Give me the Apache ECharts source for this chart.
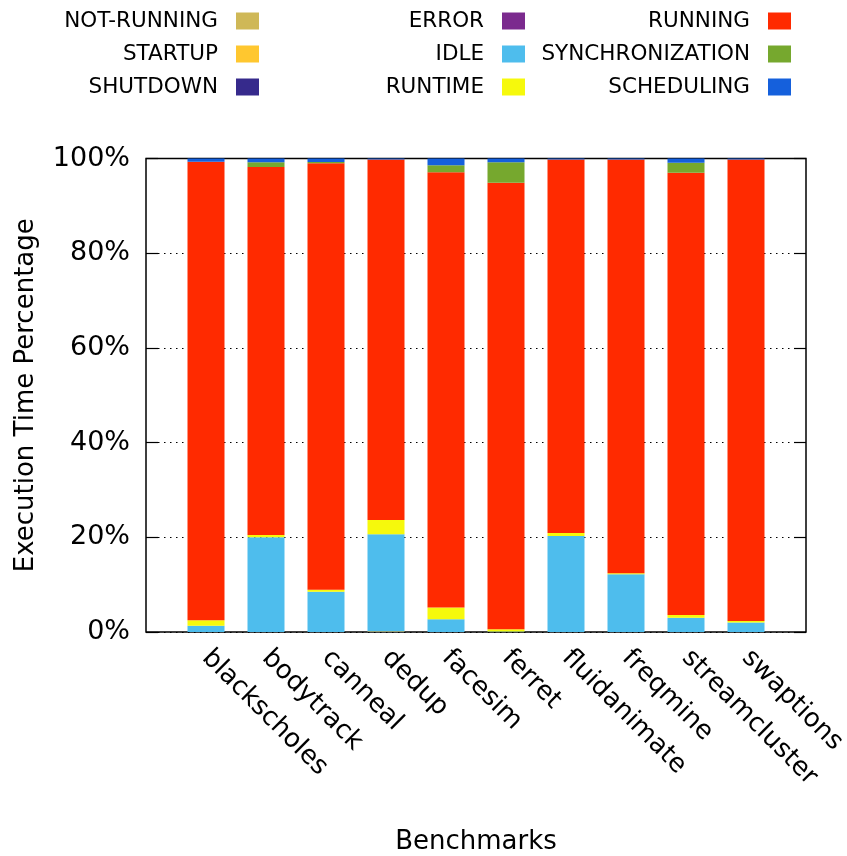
<!DOCTYPE html>
<html>
<head>
<meta charset="utf-8">
<script src="https://cdn.jsdelivr.net/npm/echarts@6/dist/echarts.min.js"></script>
<style>
  html, body { margin: 0; padding: 0; background: #fff; }
  #chart { width: 847px; height: 856px; }
</style>
</head>
<body>
<div id="chart"></div>
<script>
// Benchmarks on the x axis
const benchmarks = ['blackscholes', 'bodytrack', 'canneal', 'dedup', 'facesim',
  'ferret', 'fluidanimate', 'freqmine', 'streamcluster', 'swaptions'];

// Percentage of execution time spent in each state, per benchmark
const notRunning      = [0,   0,    0,    0.15, 0,    0,    0,    0,    0,    0];
const startup         = [0,   0,    0,    0,    0,    0,    0,    0,    0,    0];
const shutdown        = [0,   0,    0,    0,    0,    0,    0,    0,    0,    0];
const errorState      = [0,   0,    0,    0,    0,    0,    0,    0,    0,    0];
const idle            = [1.3, 20.0, 8.5,  20.5, 2.7,  0.1,  20.3, 12.2, 3.0,  2.0];
const runtime         = [1.2, 0.5,  0.4,  3.0,  2.5,  0.5,  0.6,  0.2,  0.6,  0.3];
const running         = [96.8, 77.7, 90.1, 76.15, 91.9, 94.3, 78.9, 87.4, 93.4, 97.5];
const synchronization = [0,   1.0,  0.25, 0,    1.5,  4.3,  0,    0,    2.1,  0];
const scheduling      = [0.7, 0.8,  0.75, 0.2,  1.4,  0.8,  0.2,  0.2,  0.9,  0.2];

// Y axis ticks (percent)
const yTicks = [0, 20, 40, 60, 80, 100];

const FONT = 'DejaVu Sans';

// Stack order, bottom to top
const states = [
  { name: 'NOT-RUNNING',     data: notRunning,      color: '#cfb857' },
  { name: 'STARTUP',         data: startup,         color: '#ffc72f' },
  { name: 'SHUTDOWN',        data: shutdown,        color: '#362a8c' },
  { name: 'ERROR',           data: errorState,      color: '#7b2a8e' },
  { name: 'IDLE',            data: idle,            color: '#4ebded' },
  { name: 'RUNTIME',         data: runtime,         color: '#f6f90c' },
  { name: 'RUNNING',         data: running,         color: '#ff2a00' },
  { name: 'SYNCHRONIZATION', data: synchronization, color: '#76a82e' },
  { name: 'SCHEDULING',      data: scheduling,      color: '#1560dc' }
];

// The x range runs one slot past each end, so pad the category list with blanks
const xCategories = [''].concat(benchmarks, ['']);
const pad = arr => [null].concat(arr, [null]);

// Key layout: three columns of three rows, text right-aligned before the swatch
const keyColumns = [
  ['NOT-RUNNING', 'STARTUP', 'SHUTDOWN'],
  ['ERROR', 'IDLE', 'RUNTIME'],
  ['RUNNING', 'SYNCHRONIZATION', 'SCHEDULING']
];
const keyRight = [588, 322, 56];
const keyTop = [10, 43, 76];

const legends = [];
keyColumns.forEach((col, c) => {
  col.forEach((name, r) => {
    legends.push({
      data: [name],
      right: keyRight[c],
      top: keyTop[r],
      align: 'right',
      padding: 0,
      itemWidth: 23,
      itemHeight: 17,
      icon: 'rect',
      selectedMode: false,
      textStyle: { fontFamily: FONT, fontSize: 21.5, color: '#000', padding: [0, 13, 0, 0] }
    });
  });
});

const chart = echarts.init(document.getElementById('chart'), null, { renderer: 'canvas' });

chart.setOption({
  animation: false,
  backgroundColor: '#fff',
  legend: legends,
  grid: {
    left: 146, right: 41, top: 158.5, bottom: 224,
    outerBoundsMode: 'none',
    containLabel: false,
    show: true, borderColor: '#000', borderWidth: 1.5, backgroundColor: 'transparent'
  },
  xAxis: {
    type: 'category',
    data: xCategories,
    boundaryGap: false,
    name: 'Benchmarks',
    nameLocation: 'middle',
    nameGap: 197,
    nameTextStyle: { fontFamily: FONT, fontSize: 26, color: '#000' },
    axisLine: { show: false },
    axisTick: { show: false },
    splitLine: { show: false },
    axisLabel: {
      interval: 0,
      rotate: -45,
      margin: 22,
      fontFamily: FONT, fontSize: 26, color: '#000'
    }
  },
  yAxis: [{
    type: 'value',
    min: yTicks[0], max: yTicks[yTicks.length - 1], interval: 20,
    name: 'Execution Time Percentage',
    nameLocation: 'middle',
    nameGap: 107,
    nameTextStyle: { fontFamily: FONT, fontSize: 26, color: '#000' },
    axisLine: { show: false },
    axisTick: { show: true, inside: true, length: 12, lineStyle: { color: '#000', width: 1.2 } },
    axisLabel: { fontFamily: FONT, fontSize: 27, color: '#000', margin: 16, formatter: '{value}%' },
    splitLine: { show: true, lineStyle: { color: '#000', type: [1.5, 4.5], width: 1.2 } }
  }, {
    type: 'value',
    position: 'right',
    min: yTicks[0], max: yTicks[yTicks.length - 1], interval: 20,
    axisLine: { show: false },
    axisTick: { show: true, inside: true, length: 12, lineStyle: { color: '#000', width: 1.2 } },
    axisLabel: { show: false },
    splitLine: { show: false }
  }],
  series: states.map(s => ({
    name: s.name,
    type: 'bar',
    stack: 'total',
    barWidth: 37,
    itemStyle: { color: s.color },
    emphasis: { disabled: true },
    data: pad(s.data)
  }))
});
</script>
</body>
</html>
